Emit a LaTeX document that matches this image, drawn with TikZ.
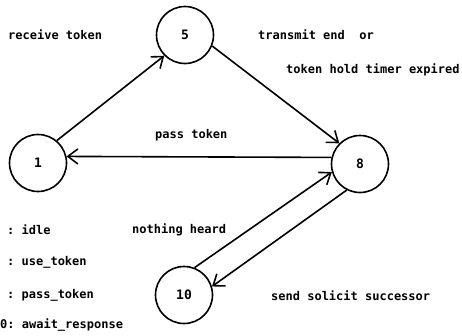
\documentclass[tikz,border=0pt]{standalone}
\usepackage{fontspec}
\setmonofont{DejaVu Sans Mono}
\usetikzlibrary{arrows.meta}
\tikzset{
  state/.style={draw, circle, line width=1.6pt, minimum size=57pt, inner sep=0pt,
                font=\ttfamily\bfseries\fontsize{13pt}{15pt}\selectfont},
  lbl/.style={anchor=west, inner sep=0pt,
              font=\ttfamily\bfseries\fontsize{12pt}{14pt}\selectfont},
  edge/.style={line width=1.6pt, -{Straight Barb[length=10pt,width=15pt,line width=1.6pt]}}
}
\begin{document}
\begin{tikzpicture}[x=1pt,y=-1pt]
  \useasboundingbox (0,0) rectangle (462,335);

  % states
  \node[state] (c5)  at (185,35)  {5};
  \node[state] (c1)  at (38,163)  {1};
  \node[state] (c8)  at (360,164) {8};
  \node[state] (c10) at (184,295) {10};

  % transitions
  \draw[edge] (c1.50)   -- (c5.225);
  \draw[edge] (c5.-22)  -- (c8.135);
  \draw[edge] (c8.167)  -- (c1.13);
  \draw[edge] (c10.69)  -- (c8.196);
  \draw[edge] (c8.243)  -- (c10.17);

  % transition labels
  \node[lbl] (lrecv) at (8,35)    {receive token};
  \node[lbl] (ltx)   at (258,35)  {transmit end\ \ or};
  \node[lbl] (ltimer) at (286,70) {token hold timer expired};
  \node[lbl] (lpass) at (155,135) {pass token};
  \node[lbl] (lnoth) at (132,230) {nothing heard};
  \node[lbl] (lsend) at (271,296) {send solicit successor};

  % state legend
  \node[lbl] (k1)  at (7,230)  {: idle};
  \node[lbl] (k5)  at (7,262)  {: use\_token};
  \node[lbl] (k8)  at (7,295)  {: pass\_token};
  \node[lbl] (k10) at (0,325)  {0: await\_response};
\end{tikzpicture}
\end{document}
